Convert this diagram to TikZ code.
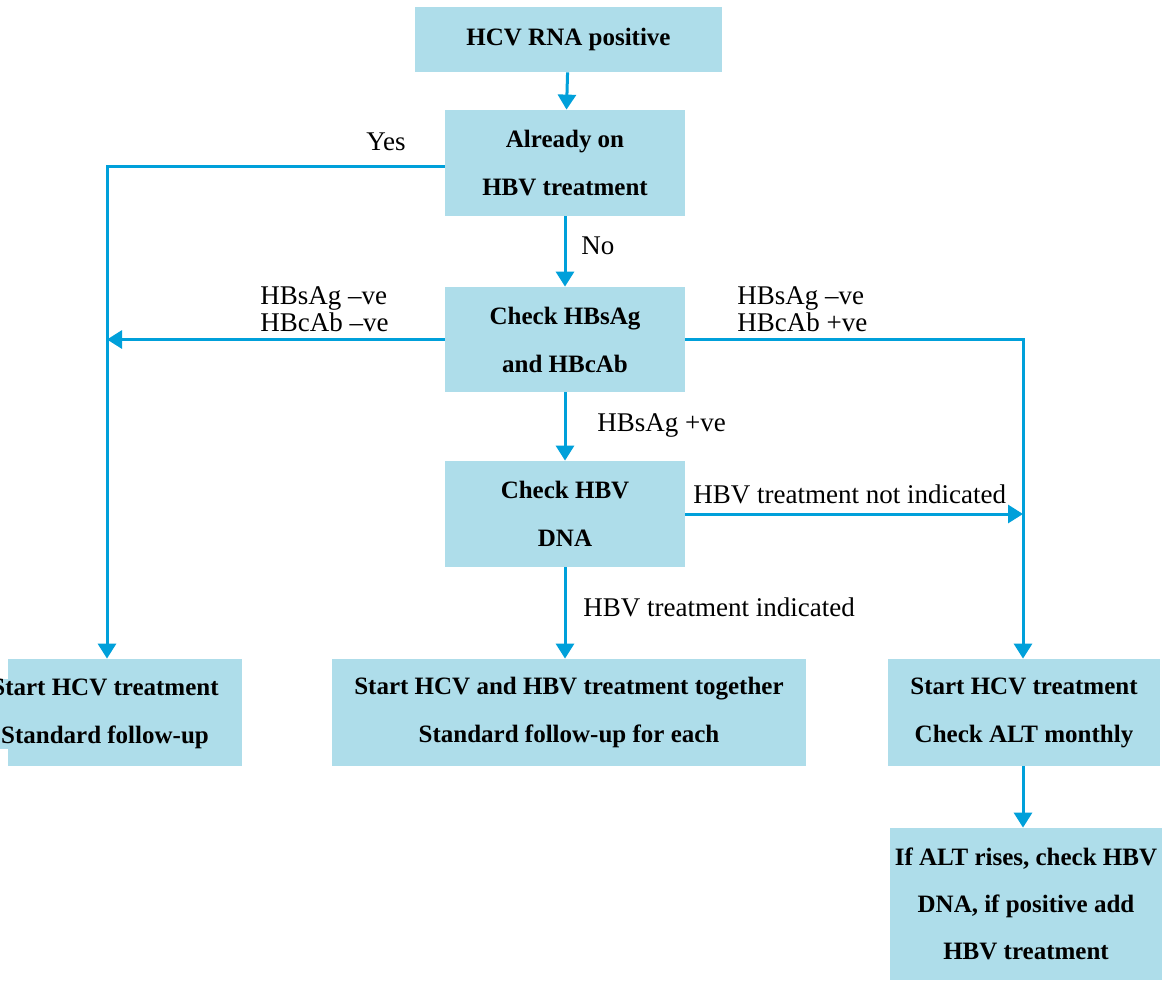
\documentclass[tikz,border=0pt]{standalone}
\usepackage{fontspec}
\setmainfont{Liberation Serif}
\usetikzlibrary{arrows.meta}
\definecolor{boxblue}{RGB}{174,221,234}
\definecolor{lineblue}{RGB}{0,160,218}
\begin{document}
\begin{tikzpicture}[x=0.5pt,y=-0.5pt,
    box/.style={fill=boxblue, inner sep=0pt, align=center,
      font=\fontsize{12.5}{24}\selectfont\bfseries},
    lbl/.style={inner sep=0pt, align=left, anchor=west,
      font=\fontsize{13.5}{13.5}\selectfont},
    flow/.style={draw=lineblue, line width=1.5pt,
      -{Triangle[width=9pt,length=7.5pt]}}]
  \path[fill=white,use as bounding box] (0,0) rectangle (1166,981);
  \path
    (568.5,39.5) node[box, minimum width=153.5pt, minimum height=32.5pt] (rna){HCV RNA positive}
    (565,163) node[box, minimum width=120pt, minimum height=53pt] (onhbv){Already on\\HBV treatment}
    (565,339.5) node[box, minimum width=120pt, minimum height=52.5pt] (check){Check HBsAg\\and HBcAb}
    (565,514) node[box, minimum width=120pt, minimum height=53pt] (dna){Check HBV\\DNA}
    (125,712.5) node[box, minimum width=117pt, minimum height=53.5pt] (leftbox){}
    (105,714) node[box] (lefttext){Start HCV treatment\\Standard follow-up}
    (569,712.5) node[box, minimum width=237pt, minimum height=53.5pt] (mid){Start HCV and HBV treatment together\\Standard follow-up for each}
    (1024,712.5) node[box, minimum width=136pt, minimum height=53.5pt] (right){Start HCV treatment\\Check ALT monthly}
    (1026,904) node[box, minimum width=136pt, minimum height=76pt, font=\fontsize{12.5}{23.5}\selectfont\bfseries] (alt){If ALT rises, check HBV\\DNA, if positive add\\HBV treatment};
  \coordinate (lcol) at (107,0);
  \coordinate (rcol) at (1023,0);
  % labels
  \node[lbl] (yes) at (366,142) {Yes};
  \node[lbl] (no) at (581,246) {No};
  \node[lbl] (negneg) at (260,309) {HBsAg –ve\\HBcAb –ve};
  \node[lbl] (negpos) at (737,309) {HBsAg –ve\\HBcAb +ve};
  \node[lbl] (pos) at (597,425) {HBsAg +ve};
  \node[lbl] (notind) at (693,494) {HBV treatment not indicated};
  \node[lbl] (ind) at (583,607) {HBV treatment indicated};
  \begin{scope}[flow]
    \draw (rna) -- (onhbv);
    \draw (onhbv) -- (check);
    \draw (check) -- (dna);
    \draw (dna) -- (dna |- mid.north);
    \draw ([yshift=-1.5pt]onhbv.west) -| (lcol |- leftbox.north);
    \draw (check.west) -- (lcol |- check.west);
    \draw (check.east) -| (rcol |- right.north);
    \draw (dna.east) -- (rcol |- dna.east);
    \draw (rcol |- right.south) -- (rcol |- alt.north);
  \end{scope}
\end{tikzpicture}
\end{document}
